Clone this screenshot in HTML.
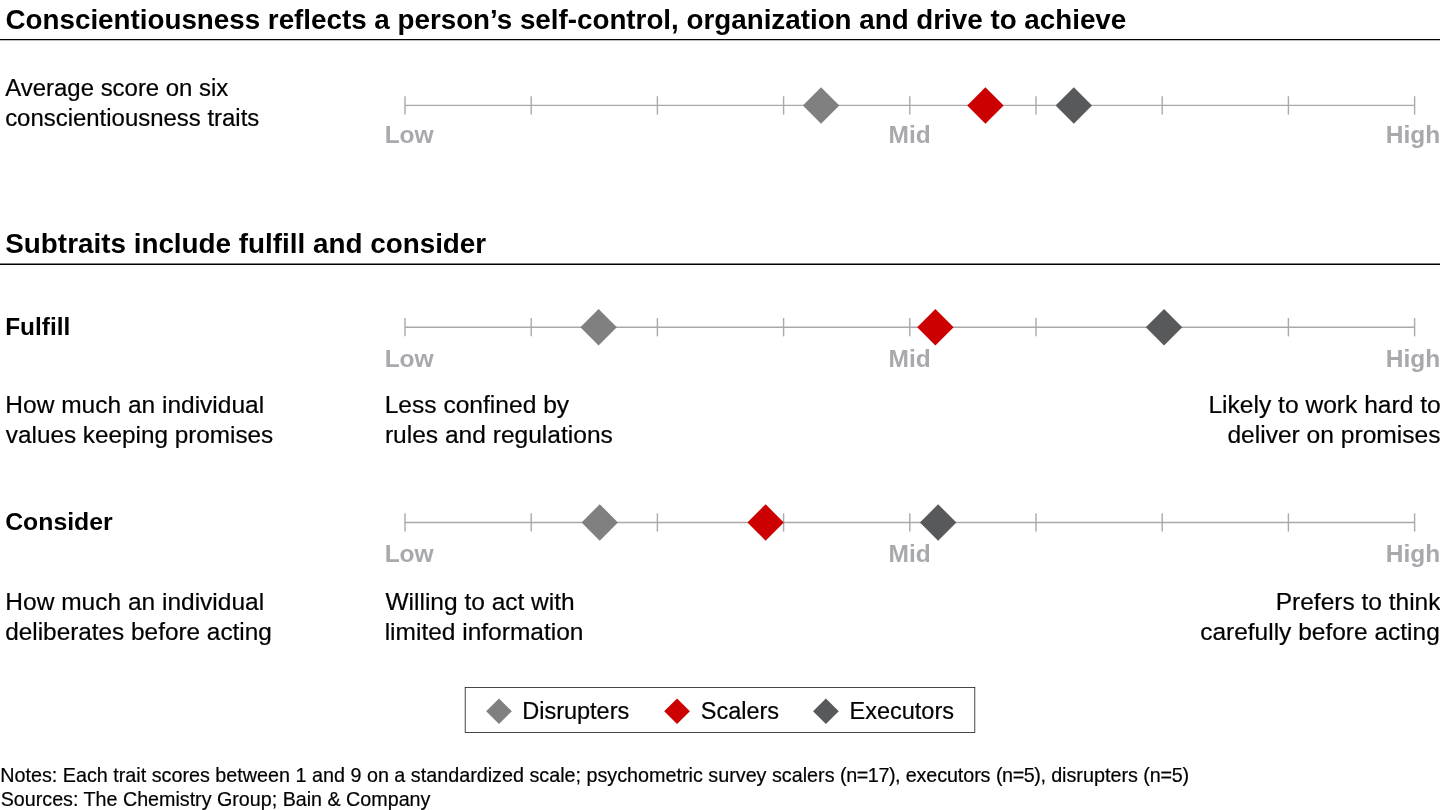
<!DOCTYPE html>
<html><head><meta charset="utf-8"><title>Conscientiousness</title>
<style>
html,body{margin:0;padding:0;background:#fff;overflow:hidden;}
body{width:1440px;height:810px;position:relative;overflow:hidden;font-family:"Liberation Sans",sans-serif;color:#000;}
#tx{position:absolute;left:0;top:0;width:1440px;height:810px;will-change:transform;overflow:hidden;}
.t{position:absolute;white-space:nowrap;margin:0;padding:0;}
.b{font-weight:bold;}
.r{-webkit-text-stroke:0.2px #000;}
svg{position:absolute;left:0;top:0;}
</style></head><body>
<svg width="1440" height="810" viewBox="0 0 1440 810">
<line x1="0" y1="39.6" x2="1440" y2="39.6" stroke="#000" stroke-width="1.4"/>
<line x1="0" y1="264.3" x2="1440" y2="264.3" stroke="#000" stroke-width="1.4"/>
<line x1="405.0" y1="105.4" x2="1414.60" y2="105.4" stroke="#a7a9ac" stroke-width="1.4"/>
<line x1="405.00" y1="96.25" x2="405.00" y2="114.55" stroke="#a7a9ac" stroke-width="1.4"/>
<line x1="531.20" y1="96.25" x2="531.20" y2="114.55" stroke="#a7a9ac" stroke-width="1.4"/>
<line x1="657.40" y1="96.25" x2="657.40" y2="114.55" stroke="#a7a9ac" stroke-width="1.4"/>
<line x1="783.60" y1="96.25" x2="783.60" y2="114.55" stroke="#a7a9ac" stroke-width="1.4"/>
<line x1="909.80" y1="96.25" x2="909.80" y2="114.55" stroke="#a7a9ac" stroke-width="1.4"/>
<line x1="1036.00" y1="96.25" x2="1036.00" y2="114.55" stroke="#a7a9ac" stroke-width="1.4"/>
<line x1="1162.20" y1="96.25" x2="1162.20" y2="114.55" stroke="#a7a9ac" stroke-width="1.4"/>
<line x1="1288.40" y1="96.25" x2="1288.40" y2="114.55" stroke="#a7a9ac" stroke-width="1.4"/>
<line x1="1414.60" y1="96.25" x2="1414.60" y2="114.55" stroke="#a7a9ac" stroke-width="1.4"/>
<polygon points="802.90,105.50 821.10,87.30 839.30,105.50 821.10,123.70" fill="#808080"/>
<polygon points="967.20,105.50 985.40,87.30 1003.60,105.50 985.40,123.70" fill="#cc0000"/>
<polygon points="1055.60,105.50 1073.80,87.30 1092.00,105.50 1073.80,123.70" fill="#58595b"/>
<line x1="405.0" y1="327.2" x2="1414.60" y2="327.2" stroke="#a7a9ac" stroke-width="1.4"/>
<line x1="405.00" y1="318.05" x2="405.00" y2="336.35" stroke="#a7a9ac" stroke-width="1.4"/>
<line x1="531.20" y1="318.05" x2="531.20" y2="336.35" stroke="#a7a9ac" stroke-width="1.4"/>
<line x1="657.40" y1="318.05" x2="657.40" y2="336.35" stroke="#a7a9ac" stroke-width="1.4"/>
<line x1="783.60" y1="318.05" x2="783.60" y2="336.35" stroke="#a7a9ac" stroke-width="1.4"/>
<line x1="909.80" y1="318.05" x2="909.80" y2="336.35" stroke="#a7a9ac" stroke-width="1.4"/>
<line x1="1036.00" y1="318.05" x2="1036.00" y2="336.35" stroke="#a7a9ac" stroke-width="1.4"/>
<line x1="1162.20" y1="318.05" x2="1162.20" y2="336.35" stroke="#a7a9ac" stroke-width="1.4"/>
<line x1="1288.40" y1="318.05" x2="1288.40" y2="336.35" stroke="#a7a9ac" stroke-width="1.4"/>
<line x1="1414.60" y1="318.05" x2="1414.60" y2="336.35" stroke="#a7a9ac" stroke-width="1.4"/>
<polygon points="580.40,327.20 598.60,309.00 616.80,327.20 598.60,345.40" fill="#808080"/>
<polygon points="917.20,327.20 935.40,309.00 953.60,327.20 935.40,345.40" fill="#cc0000"/>
<polygon points="1145.85,327.20 1164.05,309.00 1182.25,327.20 1164.05,345.40" fill="#58595b"/>
<line x1="405.0" y1="522.45" x2="1414.60" y2="522.45" stroke="#a7a9ac" stroke-width="1.4"/>
<line x1="405.00" y1="513.30" x2="405.00" y2="531.60" stroke="#a7a9ac" stroke-width="1.4"/>
<line x1="531.20" y1="513.30" x2="531.20" y2="531.60" stroke="#a7a9ac" stroke-width="1.4"/>
<line x1="657.40" y1="513.30" x2="657.40" y2="531.60" stroke="#a7a9ac" stroke-width="1.4"/>
<line x1="783.60" y1="513.30" x2="783.60" y2="531.60" stroke="#a7a9ac" stroke-width="1.4"/>
<line x1="909.80" y1="513.30" x2="909.80" y2="531.60" stroke="#a7a9ac" stroke-width="1.4"/>
<line x1="1036.00" y1="513.30" x2="1036.00" y2="531.60" stroke="#a7a9ac" stroke-width="1.4"/>
<line x1="1162.20" y1="513.30" x2="1162.20" y2="531.60" stroke="#a7a9ac" stroke-width="1.4"/>
<line x1="1288.40" y1="513.30" x2="1288.40" y2="531.60" stroke="#a7a9ac" stroke-width="1.4"/>
<line x1="1414.60" y1="513.30" x2="1414.60" y2="531.60" stroke="#a7a9ac" stroke-width="1.4"/>
<polygon points="581.55,522.45 599.75,504.25 617.95,522.45 599.75,540.65" fill="#808080"/>
<polygon points="747.40,522.45 765.60,504.25 783.80,522.45 765.60,540.65" fill="#cc0000"/>
<polygon points="919.95,522.45 938.15,504.25 956.35,522.45 938.15,540.65" fill="#58595b"/>
<rect x="465.18" y="687.4" width="509.64" height="45" fill="#fff" stroke="#000" stroke-width="0.72"/>
<polygon points="486.15,711.25 499.00,698.40 511.85,711.25 499.00,724.10" fill="#808080"/>
<polygon points="664.20,711.25 677.05,698.40 689.90,711.25 677.05,724.10" fill="#cc0000"/>
<polygon points="813.05,711.25 825.90,698.40 838.75,711.25 825.90,724.10" fill="#58595b"/>
</svg>
<div id="tx">
<div class="t b" style="left:5.55px;top:6px;font-size:27.78px;line-height:27.78px;">Conscientiousness reflects a person’s self-control, organization and drive to achieve</div>
<div class="t r" style="left:5.25px;top:76px;font-size:23.95px;line-height:23.95px;">Average score on six</div>
<div class="t r" style="left:5.15px;top:106px;font-size:23.95px;line-height:23.95px;">conscientiousness traits</div>
<div class="t b" style="left:384.65px;top:123px;font-size:24.5px;line-height:24.5px;color:#a7a9ac;">Low</div>
<div class="t b" style="left:888.59px;top:123px;font-size:24.5px;line-height:24.5px;color:#a7a9ac;">Mid</div>
<div class="t b" style="left:1385.86px;top:123px;font-size:24.5px;line-height:24.5px;color:#a7a9ac;">High</div>
<div class="t b" style="left:384.65px;top:347px;font-size:24.5px;line-height:24.5px;color:#a7a9ac;">Low</div>
<div class="t b" style="left:888.59px;top:347px;font-size:24.5px;line-height:24.5px;color:#a7a9ac;">Mid</div>
<div class="t b" style="left:1385.86px;top:347px;font-size:24.5px;line-height:24.5px;color:#a7a9ac;">High</div>
<div class="t b" style="left:384.65px;top:542px;font-size:24.5px;line-height:24.5px;color:#a7a9ac;">Low</div>
<div class="t b" style="left:888.59px;top:542px;font-size:24.5px;line-height:24.5px;color:#a7a9ac;">Mid</div>
<div class="t b" style="left:1385.86px;top:542px;font-size:24.5px;line-height:24.5px;color:#a7a9ac;">High</div>
<div class="t b" style="left:5.32px;top:230px;font-size:27.84px;line-height:27.84px;">Subtraits include fulfill and consider</div>
<div class="t b" style="left:5.20px;top:315px;font-size:24.4px;line-height:24.4px;">Fulfill</div>
<div class="t r" style="left:5.35px;top:393px;font-size:24.5px;line-height:24.5px;">How much an individual</div>
<div class="t r" style="left:5.87px;top:423px;font-size:24.3px;line-height:24.3px;">values keeping promises</div>
<div class="t r" style="left:384.67px;top:393px;font-size:24.59px;line-height:24.59px;">Less confined by</div>
<div class="t r" style="left:384.93px;top:423px;font-size:24.55px;line-height:24.55px;">rules and regulations</div>
<div class="t r" style="left:1208.45px;top:393px;font-size:24.58px;line-height:24.58px;">Likely to work hard to</div>
<div class="t r" style="left:1227.40px;top:423px;font-size:24.58px;line-height:24.58px;">deliver on promises</div>
<div class="t b" style="left:5.19px;top:510px;font-size:24.8px;line-height:24.8px;">Consider</div>
<div class="t r" style="left:5.35px;top:590px;font-size:24.5px;line-height:24.5px;">How much an individual</div>
<div class="t r" style="left:5.21px;top:620px;font-size:24.35px;line-height:24.35px;">deliberates before acting</div>
<div class="t r" style="left:385.45px;top:590px;font-size:24.5px;line-height:24.5px;">Willing to act with</div>
<div class="t r" style="left:384.65px;top:620px;font-size:24.5px;line-height:24.5px;">limited information</div>
<div class="t r" style="left:1275.71px;top:590px;font-size:24.5px;line-height:24.5px;">Prefers to think</div>
<div class="t r" style="left:1200.14px;top:620px;font-size:24.5px;line-height:24.5px;">carefully before acting</div>
<div class="t r" style="left:522.19px;top:700px;font-size:23.5px;line-height:23.5px;">Disrupters</div>
<div class="t r" style="left:700.74px;top:700px;font-size:23.5px;line-height:23.5px;">Scalers</div>
<div class="t r" style="left:849.51px;top:700px;font-size:23.5px;line-height:23.5px;">Executors</div>
<div class="t r" style="left:0.24px;top:766px;font-size:19.76px;line-height:19.76px;">Notes: Each trait scores between 1 and 9 on a standardized scale; psychometric survey scalers <span style="letter-spacing:-0.43px">(n=17),</span> <span style="letter-spacing:-0.1px">executors</span> <span style="letter-spacing:-0.4px">(n=5),</span> disrupters <span style="letter-spacing:-0.24px">(n=5)</span></div>
<div class="t r" style="left:0.72px;top:790px;font-size:19.71px;line-height:19.71px;">Sources: The Chemistry Group; Bain &amp; Company</div>
</div>
</body></html>
